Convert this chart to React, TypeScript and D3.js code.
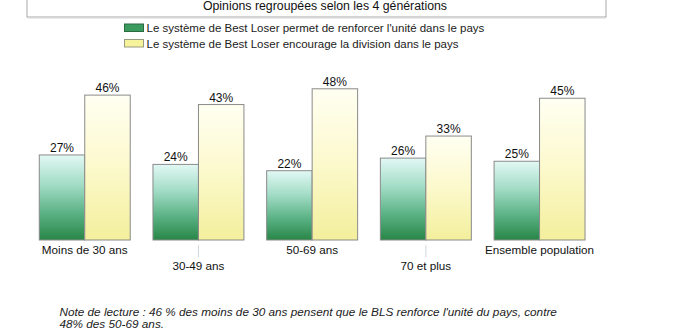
import React from "react";
import * as d3 from "d3";

const categories = ["Moins de 30 ans", "30-49 ans", "50-69 ans", "70 et plus", "Ensemble population"];
const seriesNames = [
  "Le système de Best Loser permet de renforcer l'unité dans le pays",
  "Le système de Best Loser encourage la division dans le pays",
];
const unite = [27, 24, 22, 26, 25];
const division = [46, 43, 48, 33, 45];
const title = "Opinions regroupées selon les 4 générations";
const noteLines = [
  "Note de lecture : 46 % des moins de 30 ans pensent que le BLS renforce l'unité du pays, contre",
  "48% des 50-69 ans.",
];

const W = 677;
const H = 330;
const FONT = "'Liberation Sans', Arial, sans-serif";

export default function App() {
  const x0 = d3
    .scaleBand<string>()
    .domain(categories)
    .range([27.9, 596.4])
    .paddingInner(0.2)
    .paddingOuter(0.1);
  const x1 = d3.scaleBand<string>().domain(["u", "d"]).range([0, x0.bandwidth()]);
  const baseline = 240;
  const y = d3.scaleLinear().domain([0, 100]).range([baseline, baseline - 315]);

  const series = [
    { key: "u", values: unite, fill: "url(#gGreen)", swatch: "#3b9a5e", swStroke: "#2a6b40" },
    { key: "d", values: division, fill: "url(#gYellow)", swatch: "#f7f39c", swStroke: "#9a9a80" },
  ];

  return (
    <svg
      width={W}
      height={H}
      style={{ position: "absolute", left: 0, top: 0, background: "#fff" }}
      fontFamily={FONT}
    >
      <defs>
        <linearGradient id="gGreen" x1="0" y1="0" x2="0" y2="1">
          <stop offset="0" stopColor="#e2f8f4" />
          <stop offset="0.35" stopColor="#a2dcc6" />
          <stop offset="0.7" stopColor="#58b082" />
          <stop offset="1" stopColor="#288646" />
        </linearGradient>
        <linearGradient id="gYellow" x1="0" y1="0" x2="0" y2="1">
          <stop offset="0" stopColor="#fffff2" />
          <stop offset="0.5" stopColor="#fcf9cc" />
          <stop offset="1" stopColor="#f3ef9c" />
        </linearGradient>
      </defs>

      {/* title box */}
      <rect x={27} y={-2} width={579} height={19} fill="#fff" stroke="#a8a8a8" strokeWidth={1} />
      <line x1={28} x2={606} y1={18} y2={18} stroke="#d8d8d8" strokeWidth={1} />
      <text x={325} y={10} textAnchor="middle" fontSize={12.3} fill="#111">
        {title}
      </text>

      {/* legend */}
      {series.map((s, i) => (
        <g key={s.key} transform={`translate(124.5, ${24 + i * 15.5})`}>
          <rect x={0} y={0} width={19} height={7.5} fill={s.swatch} stroke={s.swStroke} strokeWidth={1} />
          <text x={22} y={8} fontSize={11.5} fill="#222">
            {seriesNames[i]}
          </text>
        </g>
      ))}

      {/* bars */}
      {categories.map((c, ci) => (
        <g key={c} transform={`translate(${x0(c)},0)`}>
          {series.map((s) => {
            const v = s.values[ci];
            const bx = x1(s.key)!;
            const bw = x1.bandwidth();
            return (
              <g key={s.key}>
                <rect
                  x={bx}
                  y={y(v)}
                  width={bw}
                  height={baseline - y(v)}
                  fill={s.fill}
                  stroke="#8a8a8a"
                  strokeWidth={1}
                />
                <text x={bx + bw / 2} y={y(v) - 3} textAnchor="middle" fontSize={12} fill="#111">
                  {v}%
                </text>
              </g>
            );
          })}
        </g>
      ))}

      {/* category labels, staggered */}
      {categories.map((c, ci) => {
        const cx = x0(c)! + x0.bandwidth() / 2;
        const odd = ci % 2 === 1;
        return (
          <g key={c}>
            {odd && <line x1={cx} x2={cx} y1={245} y2={257} stroke="#d0d4dc" strokeWidth={1} />}
            <text x={cx} y={odd ? 270 : 254} textAnchor="middle" fontSize={11.7} fill="#111">
              {c}
            </text>
          </g>
        );
      })}

      {/* note */}
      {noteLines.map((l, i) => (
        <text key={i} x={59.5} y={316 + i * 11.5} fontSize={11.75} fontStyle="italic" fill="#222">
          {l}
        </text>
      ))}
    </svg>
  );
}
